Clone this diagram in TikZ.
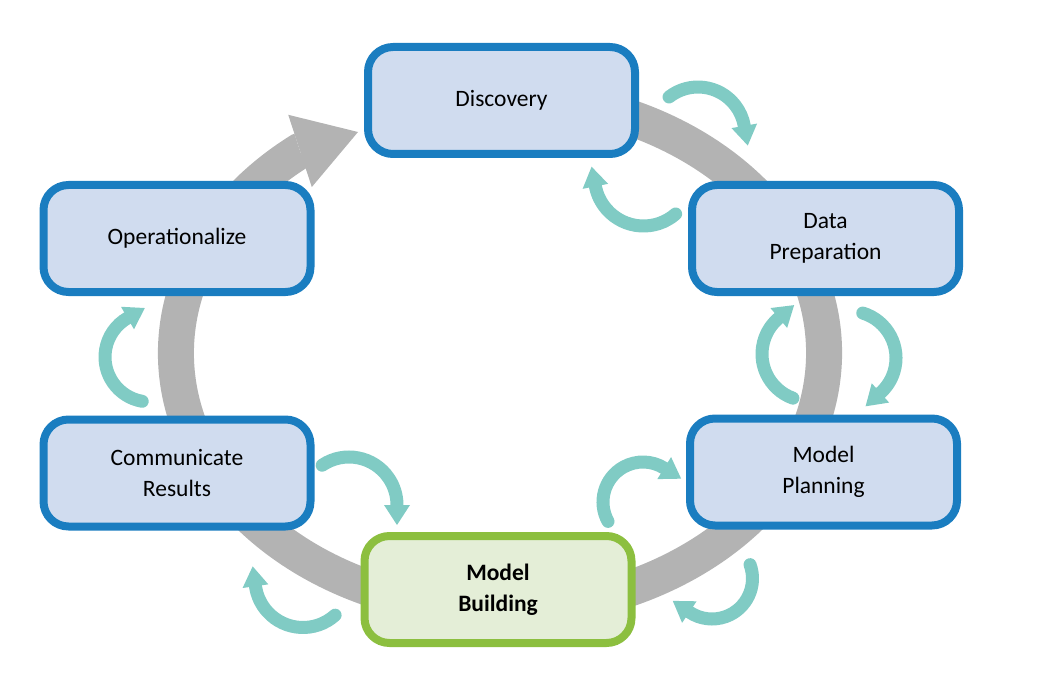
\documentclass[tikz,border=0pt]{standalone}
\usepackage{fontspec}
\setmainfont{Carlito}
\usetikzlibrary{arrows.meta}
\definecolor{boxblue}{HTML}{1A7DC0}
\definecolor{boxfill}{HTML}{D0DCEF}
\definecolor{boxgreen}{HTML}{8CBF3F}
\definecolor{greenfill}{HTML}{E4EED7}
\definecolor{ringgray}{HTML}{B3B3B3}
\definecolor{tealarrow}{HTML}{80CBC4}
\newcommand\cyclearc[5]{\draw[cyclearrow] ([shift={(#4:#3)}]#1,#2) arc[start angle=#4,end angle=#5,radius=#3] -- ++({#5+90}:20);}
\begin{document}
\begin{tikzpicture}[x=1pt,y=-1pt,
  stage/.style={draw=boxblue, fill=boxfill, line width=8pt, rounded corners=25pt,
    minimum width=267pt, minimum height=107pt, align=center, inner sep=0pt,
    font=\fontsize{23.5}{31}\selectfont},
  stagegreen/.style={stage, draw=boxgreen, fill=greenfill,
    font=\fontsize{23.5}{31}\selectfont\bfseries},
  ring/.style={draw=ringgray, line width=36pt,
    -{Triangle[width=76pt,length=61pt,line width=0pt]}},
  cyclearrow/.style={draw=tealarrow, line width=13pt, line cap=round,
    -{Triangle[width=26pt,length=20pt,line width=0pt]}}]
\useasboundingbox (0,0) rectangle (1045,682);
% big grey cycle
\draw[ring] ([shift={(-75:324 and 257)}]500,353)
  arc[start angle=-75, end angle=231.8, x radius=324, y radius=257]
  -- (358,132);
% stages
\node[stage] (disc) at (501.5,100.5) {Discovery};
\node[stage] (prep) at (825.5,238.5) {Data\\Preparation};
\node[stage] (plan) at (823.5,472) {Model\\Planning};
\node[stagegreen] (build) at (498,589.5) {Model\\Building};
\node[stage] (comm) at (177,473) {Communicate\\Results};
\node[stage] (oper) at (177,238.5) {Operationalize};
% small teal loop arrows
\cyclearc{698}{134}{47}{232}{350}
\cyclearc{643.5}{177}{49}{49}{169}
\cyclearc{849}{358}{47}{287}{408}
\cyclearc{809}{354}{47}{110}{230}
\cyclearc{643}{502}{40}{151}{302}
\cyclearc{712}{578.5}{40.5}{340}{484}
\cyclearc{349}{505}{48}{236}{360}
\cyclearc{303}{579.5}{48}{48}{172}
\cyclearc{150}{357}{45}{100}{240}
\end{tikzpicture}
\end{document}
